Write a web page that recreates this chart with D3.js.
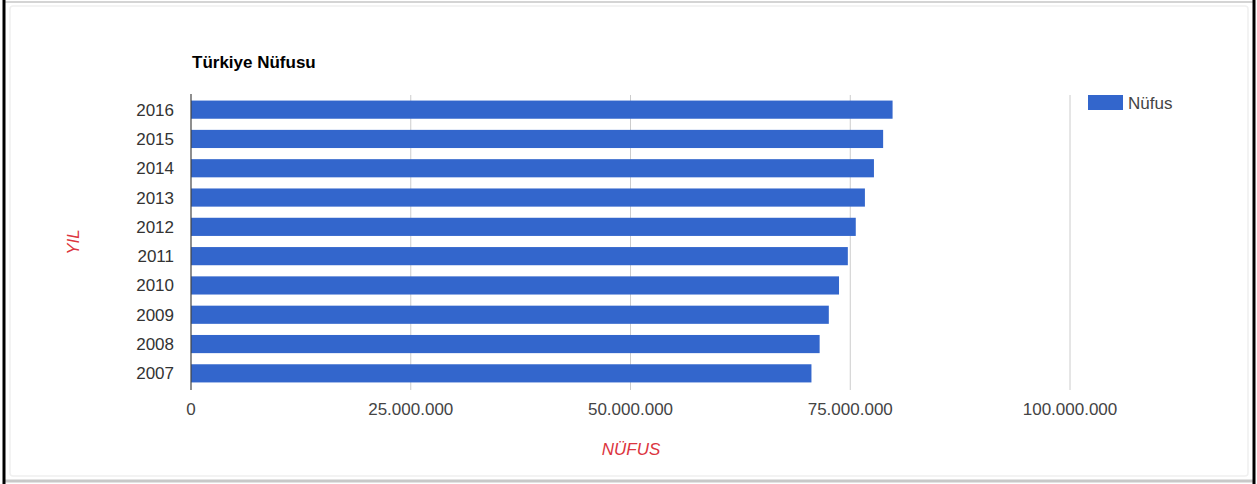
<!DOCTYPE html>
<html>
<head>
<meta charset="utf-8">
<script src="https://cdn.jsdelivr.net/npm/d3@7"></script>
<style>
  body { margin: 0; background: #fff; }
  svg { display: block; font-family: "Liberation Sans", Arial, sans-serif; }
</style>
</head>
<body>
<div id="chart"></div>
<script>
// Data
const years = ["2016", "2015", "2014", "2013", "2012", "2011", "2010", "2009", "2008", "2007"];
const nufus = [79814871, 78741053, 77695904, 76667864, 75627384, 74724269, 73722988, 72561312, 71517100, 70586256];
const xTicks = [0, 25000000, 50000000, 75000000, 100000000];
const xTickLabels = ["0", "25.000.000", "50.000.000", "75.000.000", "100.000.000"];

const W = 1257, H = 484;
const svg = d3.select("#chart").append("svg").attr("width", W).attr("height", H);

// outer frame
svg.append("rect").attr("x", 0).attr("y", 0).attr("width", W).attr("height", H).attr("fill", "#fff");
svg.append("line").attr("x1", 5).attr("x2", 1253).attr("y1", 2).attr("y2", 2).attr("stroke", "#d4d4d4").attr("stroke-width", 2);
svg.append("line").attr("x1", 5).attr("x2", 1253).attr("y1", 481).attr("y2", 481).attr("stroke", "#c8c8c8").attr("stroke-width", 3);
svg.append("line").attr("x1", 4).attr("x2", 4).attr("y1", 0).attr("y2", H).attr("stroke", "#000").attr("stroke-width", 3);
svg.append("line").attr("x1", 1254).attr("x2", 1254).attr("y1", 0).attr("y2", H).attr("stroke", "#000").attr("stroke-width", 3);
svg.append("rect").attr("x", 10).attr("y", 6).attr("width", 1238).attr("height", 470)
  .attr("fill", "none").attr("stroke", "#f0f0f0").attr("stroke-width", 1.5).attr("rx", 3);

const x = d3.scaleLinear().domain([0, 100000000]).range([191, 1070]);
const y = d3.scaleBand().domain(years).range([95, 388]).paddingInner(0.38).paddingOuter(0.19);

// gridlines
svg.append("g").selectAll("line")
  .data(xTicks.slice(1))
  .enter().append("line")
  .attr("x1", d => x(d)).attr("x2", d => x(d))
  .attr("y1", 95).attr("y2", 390)
  .attr("stroke", "#cccccc").attr("stroke-width", 1);

// bars
svg.append("g").selectAll("rect")
  .data(years)
  .enter().append("rect")
  .attr("x", x(0))
  .attr("y", d => y(d))
  .attr("width", (d, i) => x(nufus[i]) - x(0))
  .attr("height", y.bandwidth())
  .attr("fill", "#3366cc");

// baseline
svg.append("line")
  .attr("x1", x(0)).attr("x2", x(0)).attr("y1", 94).attr("y2", 390)
  .attr("stroke", "#444").attr("stroke-width", 1.2);

// x tick labels
svg.append("g").selectAll("text")
  .data(xTicks)
  .enter().append("text")
  .attr("x", d => x(d)).attr("y", 415)
  .attr("text-anchor", "middle")
  .attr("font-size", 17).attr("fill", "#444")
  .text((d, i) => xTickLabels[i]);

// y tick labels
svg.append("g").selectAll("text")
  .data(years)
  .enter().append("text")
  .attr("x", 174).attr("y", d => y(d) + y.bandwidth() / 2 + 6)
  .attr("text-anchor", "end")
  .attr("font-size", 17).attr("fill", "#333")
  .text(d => d);

// title
svg.append("text").attr("x", 192).attr("y", 68)
  .attr("font-size", 17).attr("font-weight", "bold").attr("fill", "#000")
  .text("Türkiye Nüfusu");

// axis titles
svg.append("text").attr("x", 631).attr("y", 455)
  .attr("text-anchor", "middle").attr("font-size", 17).attr("font-style", "italic")
  .attr("fill", "#dc3540").text("NÜFUS");
svg.append("text").attr("transform", "translate(79,242) rotate(-90)")
  .attr("text-anchor", "middle").attr("font-size", 17).attr("font-style", "italic")
  .attr("fill", "#dc3540").text("YIL");

// legend
svg.append("rect").attr("x", 1088).attr("y", 95).attr("width", 35).attr("height", 15).attr("fill", "#3366cc");
svg.append("text").attr("x", 1128).attr("y", 109)
  .attr("font-size", 17).attr("fill", "#444").text("Nüfus");
</script>
</body>
</html>
